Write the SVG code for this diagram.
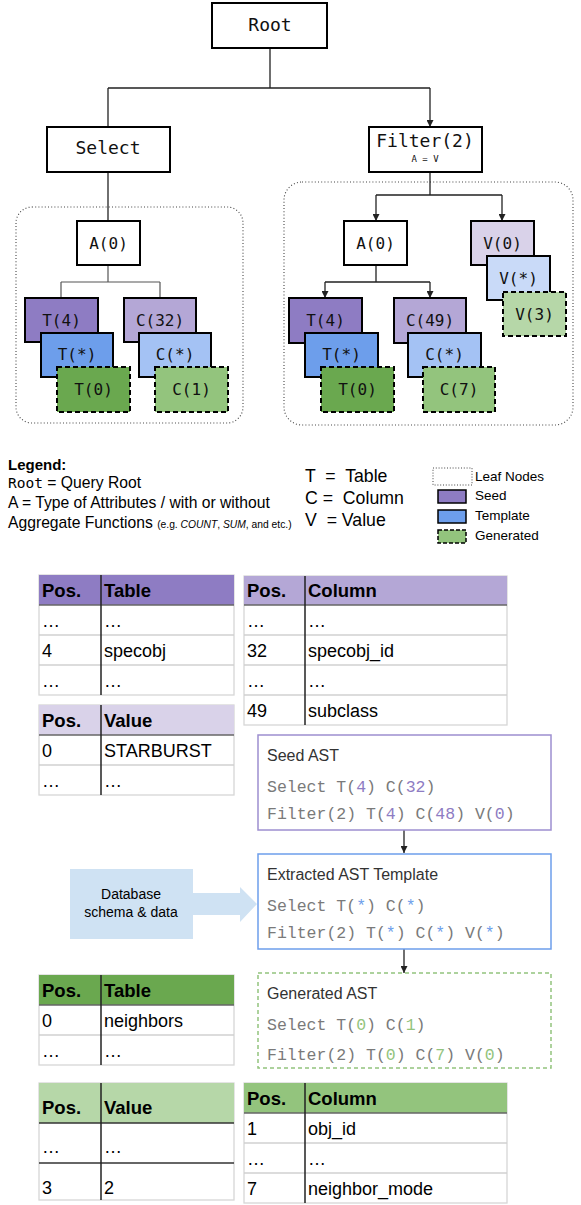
<svg xmlns="http://www.w3.org/2000/svg" width="581" height="1205" viewBox="0 0 581 1205">
<style>
.bg{fill:#ffffff}
.nd{stroke:#000;stroke-width:2}
.dash{stroke-dasharray:5 3}
.mono{font-family:"DejaVu Sans Mono","Liberation Mono",monospace;fill:#111;text-anchor:middle}
.ln{fill:none;stroke:#222;stroke-width:1.3}
.lg{fill:none;stroke:#555;stroke-width:1.2}
.cont{fill:none;stroke:#444;stroke-width:1.1;stroke-dasharray:1 2.2}
.sans{font-family:"Liberation Sans",Arial,sans-serif;fill:#000}
.th{font-family:"Liberation Sans",Arial,sans-serif;font-weight:bold;font-size:18.5px;fill:#000}
.td{font-family:"Liberation Sans",Arial,sans-serif;font-size:18px;fill:#000}
.tb{fill:#fff;stroke:#d6d6d6;stroke-width:1.3}
.rl{stroke:#d0d0d0;stroke-width:1.3}
.sep{stroke:#222;stroke-width:1.5}
.code{font-family:"Liberation Mono","Courier New",monospace;font-size:16.5px;fill:#7a7a7a}
.ttl{font-family:"Liberation Sans",Arial,sans-serif;font-size:16px;fill:#333}
.s1{fill:#8e7cc3}.s2{fill:#b4a7d6}.s3{fill:#d9d2e9}
.t1{fill:#6d9eeb}.t2{fill:#a4c2f4}.t3{fill:#c9daf8}
.g1{fill:#6aa84f}.g2{fill:#93c47d}.g3{fill:#b6d7a8}
</style>
<defs>
<marker id="ah" viewBox="0 0 8 8" refX="8" refY="4" markerWidth="7" markerHeight="7" markerUnits="userSpaceOnUse" orient="auto">
<path d="M0,0 L8,4 L0,8 z" fill="#222"/>
</marker>
</defs>
<rect class="bg" x="0" y="0" width="581" height="1205"/>

<!-- leaf containers -->
<rect id="leafLeft" class="cont" x="16" y="207" width="227" height="216" rx="16"/>
<rect id="leafRight" class="cont" x="284" y="182" width="289" height="243" rx="18"/>

<g id="connectors">
<path class="ln" d="M270,48 V88 M108,88 H430 M108,88 V127"/>
<path class="ln" d="M430,88 V127" marker-end="url(#ah)"/>
<path class="ln" d="M108,172 V221"/>
<path class="lg" d="M108,265 V282 M61,282 H160 M61,282 V298 M160,282 V298"/>
<path class="ln" d="M430,172 V195 M376,195 H502"/>
<path class="ln" d="M376,195 V221" marker-end="url(#ah)"/>
<path class="ln" d="M502,195 V221" marker-end="url(#ah)"/>
<path class="ln" d="M376,265 V282 M325,282 H430"/>
<path class="ln" d="M325,282 V298" marker-end="url(#ah)"/>
<path class="ln" d="M430,282 V298" marker-end="url(#ah)"/>
<path class="ln" d="M404,830 V853" marker-end="url(#ah)"/>
<path class="ln" d="M404,949 V973" marker-end="url(#ah)"/>
</g>

<g id="root"><rect class="nd" x="212" y="3" width="115" height="45" fill="#fff"/><text class="mono" x="270" y="31" font-size="18">Root</text></g>
<g id="select"><rect class="nd" x="47" y="127" width="123" height="45" fill="#fff"/><text class="mono" x="108" y="154" font-size="18">Select</text></g>
<g id="filter"><rect class="nd" x="369" y="127" width="113" height="45" fill="#fff"/><text class="mono" x="425" y="147" font-size="18">Filter(2)</text><text class="mono" x="425" y="162" font-size="9">A = V</text></g>

<!-- left subtree -->
<g id="a0-left"><rect class="nd" x="77" y="221" width="63" height="44" fill="#fff"/><text class="mono" x="108.5" y="249" font-size="16">A(0)</text></g>
<g id="t4-left"><rect class="nd s1" x="25" y="298" width="73" height="44"/><text class="mono" x="61.5" y="326" font-size="16">T(4)</text></g>
<g id="tstar-left"><rect class="nd t1" x="41" y="333" width="72" height="44"/><text class="mono" x="77" y="360" font-size="16">T(*)</text></g>
<g id="t0-left"><rect class="nd g1 dash" x="57" y="367" width="73" height="45"/><text class="mono" x="93.5" y="395" font-size="16">T(0)</text></g>
<g id="c32-left"><rect class="nd s2" x="124" y="298" width="72" height="44"/><text class="mono" x="160" y="326" font-size="16">C(32)</text></g>
<g id="cstar-left"><rect class="nd t2" x="139" y="333" width="72" height="44"/><text class="mono" x="175" y="360" font-size="16">C(*)</text></g>
<g id="c1-left"><rect class="nd g2 dash" x="155" y="367" width="73" height="45"/><text class="mono" x="191.5" y="395" font-size="16">C(1)</text></g>

<!-- right subtree -->
<g id="a0-right"><rect class="nd" x="344" y="221" width="63" height="44" fill="#fff"/><text class="mono" x="375.5" y="249" font-size="16">A(0)</text></g>
<g id="v0"><rect class="nd s3" x="471" y="221" width="63" height="44"/><text class="mono" x="502.5" y="249" font-size="16">V(0)</text></g>
<g id="vstar"><rect class="nd t3" x="487" y="256" width="63" height="44"/><text class="mono" x="518.5" y="284" font-size="16">V(*)</text></g>
<g id="v3"><rect class="nd g3 dash" x="503" y="292" width="63" height="44"/><text class="mono" x="534.5" y="320" font-size="16">V(3)</text></g>
<g id="t4-right"><rect class="nd s1" x="289" y="298" width="73" height="45"/><text class="mono" x="325.5" y="326" font-size="16">T(4)</text></g>
<g id="tstar-right"><rect class="nd t1" x="305" y="333" width="73" height="44"/><text class="mono" x="341.5" y="360" font-size="16">T(*)</text></g>
<g id="t0-right"><rect class="nd g1 dash" x="321" y="367" width="73" height="45"/><text class="mono" x="357.5" y="395" font-size="16">T(0)</text></g>
<g id="c49-right"><rect class="nd s2" x="394" y="298" width="72" height="45"/><text class="mono" x="430" y="326" font-size="16">C(49)</text></g>
<g id="cstar-right"><rect class="nd t2" x="408" y="333" width="73" height="44"/><text class="mono" x="444.5" y="360" font-size="16">C(*)</text></g>
<g id="c7-right"><rect class="nd g2 dash" x="423" y="367" width="72" height="45"/><text class="mono" x="459" y="395" font-size="16">C(7)</text></g>

<!-- legend -->
<g id="legend">
<text class="sans" x="8" y="470" font-size="15" font-weight="bold">Legend:</text>
<text class="sans" x="8" y="488" font-size="15.7"><tspan font-family="DejaVu Sans Mono,monospace" font-size="14.5">Root</tspan> = Query Root</text>
<text class="sans" x="8" y="508" font-size="15.7">A = Type of Attributes / with or without</text>
<text class="sans" x="8" y="528" font-size="15.7">Aggregate Functions <tspan font-size="10.3">(e.g. <tspan font-style="italic">COUNT</tspan>, <tspan font-style="italic">SUM</tspan>, and etc.)</tspan></text>
<text class="sans" x="305" y="482" font-size="17.7" xml:space="preserve">T  =  Table</text>
<text class="sans" x="305" y="504" font-size="17.7" xml:space="preserve">C =  Column</text>
<text class="sans" x="305" y="526" font-size="17.7" xml:space="preserve">V  = Value</text>
<rect x="433" y="468" width="39" height="17" fill="#fff" stroke="#444" stroke-width="1" stroke-dasharray="1 1.8"/>
<text class="sans" x="475" y="481" font-size="13.5">Leaf Nodes</text>
<rect x="438" y="490" width="28" height="13" class="s1" stroke="#000" stroke-width="1.5"/>
<text class="sans" x="475" y="500" font-size="13.5">Seed</text>
<rect x="438" y="510" width="28" height="13" class="t1" stroke="#000" stroke-width="1.5"/>
<text class="sans" x="475" y="520" font-size="13.5">Template</text>
<rect x="438" y="530" width="28" height="13" class="g2" stroke="#000" stroke-width="1.5" stroke-dasharray="4 2"/>
<text class="sans" x="475" y="540" font-size="13.5">Generated</text>
</g>

<!-- table: seed Table -->
<g id="tbl-seed-table">
<rect class="tb" x="39" y="575" width="195" height="120"/>
<rect class="s1" x="39" y="575" width="195" height="30"/>
<line x1="39" y1="605" x2="234" y2="605" stroke="#666" stroke-width="1.3"/>
<line class="rl" x1="39" y1="635" x2="234" y2="635"/>
<line class="rl" x1="39" y1="665" x2="234" y2="665"/>
<line class="sep" x1="101" y1="575" x2="101" y2="695"/>
<text class="th" x="42" y="597">Pos.</text><text class="th" x="104" y="597">Table</text>
<text class="td" x="42" y="627">…</text><text class="td" x="104" y="627">…</text>
<text class="td" x="42" y="657">4</text><text class="td" x="104" y="657">specobj</text>
<text class="td" x="42" y="687">…</text><text class="td" x="104" y="687">…</text>
</g>

<!-- table: seed Value -->
<g id="tbl-seed-value">
<rect class="tb" x="39" y="705" width="195" height="90"/>
<rect class="s3" x="39" y="705" width="195" height="30"/>
<line x1="39" y1="735" x2="234" y2="735" stroke="#666" stroke-width="1.3"/>
<line class="rl" x1="39" y1="765" x2="234" y2="765"/>
<line class="sep" x1="101" y1="705" x2="101" y2="795"/>
<text class="th" x="42" y="727">Pos.</text><text class="th" x="104" y="727">Value</text>
<text class="td" x="42" y="757">0</text><text class="td" x="104" y="757">STARBURST</text>
<text class="td" x="42" y="787">…</text><text class="td" x="104" y="787">…</text>
</g>

<!-- table: seed Column -->
<g id="tbl-seed-column">
<rect class="tb" x="244" y="576" width="263" height="149"/>
<rect class="s2" x="244" y="576" width="263" height="29"/>
<line x1="244" y1="605" x2="507" y2="605" stroke="#666" stroke-width="1.3"/>
<line class="rl" x1="244" y1="635" x2="507" y2="635"/>
<line class="rl" x1="244" y1="665" x2="507" y2="665"/>
<line class="rl" x1="244" y1="695" x2="507" y2="695"/>
<line class="sep" x1="305" y1="576" x2="305" y2="725"/>
<text class="th" x="247" y="597">Pos.</text><text class="th" x="308" y="597">Column</text>
<text class="td" x="247" y="627">…</text><text class="td" x="308" y="627">…</text>
<text class="td" x="247" y="657">32</text><text class="td" x="308" y="657">specobj_id</text>
<text class="td" x="247" y="687">…</text><text class="td" x="308" y="687">…</text>
<text class="td" x="247" y="717">49</text><text class="td" x="308" y="717">subclass</text>
</g>

<!-- AST boxes -->
<g id="seed-ast">
<rect x="258" y="735" width="293" height="95" fill="#fff" stroke="#9d8fd0" stroke-width="1.5"/>
<text class="ttl" x="267" y="761">Seed AST</text>
<text class="code" x="267" y="792">Select T(<tspan class="s1">4</tspan>) C(<tspan class="s1">32</tspan>)</text>
<text class="code" x="267" y="819">Filter(2) T(<tspan class="s1">4</tspan>) C(<tspan class="s1">48</tspan>) V(<tspan class="s1">0</tspan>)</text>
</g>
<g id="extracted-ast">
<rect x="258" y="854" width="293" height="95" fill="#fff" stroke="#6d9eeb" stroke-width="1.5"/>
<text class="ttl" x="267" y="880">Extracted AST Template</text>
<text class="code" x="267" y="911">Select T(<tspan class="t1">*</tspan>) C(<tspan class="t1">*</tspan>)</text>
<text class="code" x="267" y="938">Filter(2) T(<tspan class="t1">*</tspan>) C(<tspan class="t1">*</tspan>) V(<tspan class="t1">*</tspan>)</text>
</g>
<g id="generated-ast">
<rect x="258" y="973" width="293" height="95" fill="#fff" stroke="#93c47d" stroke-width="1.5" stroke-dasharray="4 3"/>
<text class="ttl" x="267" y="999">Generated AST</text>
<text class="code" x="267" y="1030">Select T(<tspan class="g2">0</tspan>) C(<tspan class="g2">1</tspan>)</text>
<text class="code" x="267" y="1060">Filter(2) T(<tspan class="g2">0</tspan>) C(<tspan class="g2">7</tspan>) V(<tspan class="g2">0</tspan>)</text>
</g>

<!-- database arrow -->
<g id="database">
<rect x="70" y="869" width="123" height="70" fill="#cfe2f3"/>
<polygon points="192,893 240,893 240,887 257,904 240,922 240,915 192,915" fill="#cfe2f3"/>
<text class="sans" x="131" y="899" font-size="14" text-anchor="middle" fill="#222">Database</text>
<text class="sans" x="131" y="917" font-size="14" text-anchor="middle" fill="#222">schema &amp; data</text>
</g>

<!-- table: generated Table -->
<g id="tbl-gen-table">
<rect class="tb" x="39" y="975" width="195" height="90"/>
<rect class="g1" x="39" y="975" width="195" height="30"/>
<line x1="39" y1="1005" x2="234" y2="1005" stroke="#666" stroke-width="1.3"/>
<line class="rl" x1="39" y1="1035" x2="234" y2="1035"/>
<line class="sep" x1="101" y1="975" x2="101" y2="1065"/>
<text class="th" x="42" y="997">Pos.</text><text class="th" x="104" y="997">Table</text>
<text class="td" x="42" y="1027">0</text><text class="td" x="104" y="1027">neighbors</text>
<text class="td" x="42" y="1057">…</text><text class="td" x="104" y="1057">…</text>
</g>

<!-- table: generated Value -->
<g id="tbl-gen-value">
<rect class="tb" x="39" y="1083" width="195" height="117"/>
<rect class="g3" x="39" y="1083" width="195" height="40"/>
<line x1="39" y1="1123" x2="234" y2="1123" stroke="#333" stroke-width="1.3"/>
<line x1="39" y1="1163" x2="234" y2="1163" stroke="#333" stroke-width="1.3"/>
<line class="sep" x1="101" y1="1083" x2="101" y2="1200"/>
<text class="th" x="42" y="1114">Pos.</text><text class="th" x="104" y="1114">Value</text>
<text class="td" x="42" y="1153">…</text><text class="td" x="104" y="1153">…</text>
<text class="td" x="42" y="1194">3</text><text class="td" x="104" y="1194">2</text>
</g>

<!-- table: generated Column -->
<g id="tbl-gen-column">
<rect class="tb" x="244" y="1083" width="263" height="120"/>
<rect class="g2" x="244" y="1083" width="263" height="30"/>
<line x1="244" y1="1113" x2="507" y2="1113" stroke="#666" stroke-width="1.3"/>
<line class="rl" x1="244" y1="1143" x2="507" y2="1143"/>
<line class="rl" x1="244" y1="1173" x2="507" y2="1173"/>
<line class="sep" x1="305" y1="1083" x2="305" y2="1203"/>
<text class="th" x="247" y="1105">Pos.</text><text class="th" x="308" y="1105">Column</text>
<text class="td" x="247" y="1135">1</text><text class="td" x="308" y="1135">obj_id</text>
<text class="td" x="247" y="1165">…</text><text class="td" x="308" y="1165">…</text>
<text class="td" x="247" y="1195">7</text><text class="td" x="308" y="1195">neighbor_mode</text>
</g>
</svg>
